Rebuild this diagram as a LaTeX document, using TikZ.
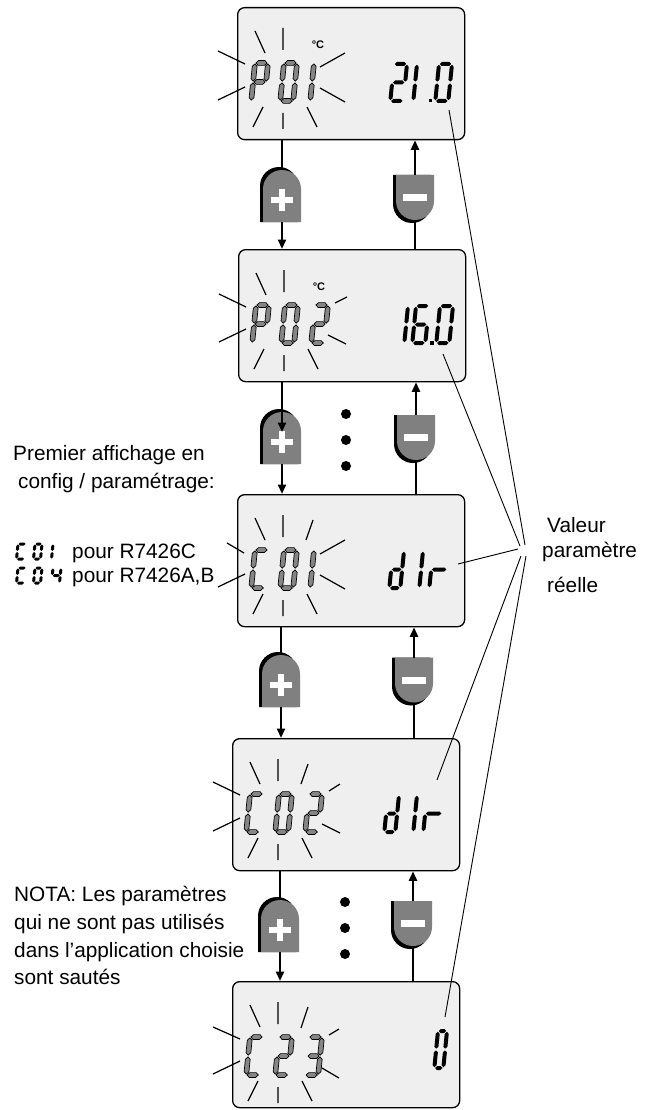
\documentclass[tikz,border=0pt]{standalone}
\usepackage{fontspec}
\setmainfont{Liberation Sans}
\usetikzlibrary{arrows.meta}

\definecolor{lcdfill}{HTML}{EFEFEF}
\definecolor{btngray}{HTML}{808080}
\definecolor{seggray}{HTML}{858585}

% pointed LCD bars
\newcommand\hseg[5]{% x1, x2, y, half thickness, style
  \path[#5] (#1,#3) -- ({#1+#4},{#3-#4}) -- ({#2-#4},{#3-#4}) -- (#2,#3)
    -- ({#2-#4},{#3+#4}) -- ({#1+#4},{#3+#4}) -- cycle;}
\newcommand\vseg[5]{% x, y1, y2, half thickness, style
  \path[#5] (#1,#2) -- ({#1+#4},{#2+#4}) -- ({#1+#4},{#3-#4}) -- (#1,#3)
    -- ({#1-#4},{#3-#4}) -- ({#1-#4},{#2+#4}) -- cycle;}

% seven segments: #1 width, #2 height, #3 style, #4 gap, #5 half thickness
\newcommand\lcdsegA[5]{\hseg{#4}{#1-#4}{0}{#5}{#3}}
\newcommand\lcdsegB[5]{\vseg{#1}{#4}{#2/2-#4}{#5}{#3}}
\newcommand\lcdsegC[5]{\vseg{#1}{#2/2+#4}{#2-#4}{#5}{#3}}
\newcommand\lcdsegD[5]{\hseg{#4}{#1-#4}{#2}{#5}{#3}}
\newcommand\lcdsegE[5]{\vseg{0}{#2/2+#4}{#2-#4}{#5}{#3}}
\newcommand\lcdsegF[5]{\vseg{0}{#4}{#2/2-#4}{#5}{#3}}
\newcommand\lcdsegG[5]{\hseg{#4}{#1-#4}{#2/2}{#5}{#3}}

% one slanted LCD character: x, y (top left), width, height, segments, style, gap, half thickness
\newcommand\glyph[8]{%
  \begin{scope}[shift={(#1,#2)}, xslant=0.1]
    \foreach \s in {#5}{\csname lcdseg\s\endcsname{#3}{#4}{#6}{#7}{#8}}
  \end{scope}}
\newcommand\codechar[2]{\glyph{#1}{56}{13}{38}{#2}{codeseg}{0.9}{2.4}}
\newcommand\valchar[2]{\glyph{#1}{57}{13}{37}{#2}{valseg}{0.8}{2}}
\newcommand\tinychar[4]{\glyph{#1}{#2}{#3}{15}{#4}{valseg}{0.5}{1.5}}

% keys of the controller
\newcommand\plusbtn[3]{%
  \node[btnnode, minimum height=52pt] (#1) at (#2,#3) {};
  \fill[black] ({#2-22},{#3+26}) -- ({#2-22},{#3-10})
    .. controls ({#2-22},{#3-20.5}) and ({#2-13.5},{#3-29}) .. ({#2-3},{#3-29})
    .. controls ({#2+7.5},{#3-29}) and ({#2+16},{#3-20.5}) .. ({#2+16},{#3-10})
    -- ({#2+16},{#3+26}) -- cycle;
  \fill[btngray] ({#2-19},{#3+26}) -- ({#2-19},{#3-7})
    .. controls ({#2-19},{#3-17.5}) and ({#2-10.5},{#3-26}) .. (#2,{#3-26})
    .. controls ({#2+10.5},{#3-26}) and ({#2+19},{#3-17.5}) .. ({#2+19},{#3-7})
    -- ({#2+19},{#3+26}) -- cycle;
  \fill[white] ({#2-11},{#3+1}) rectangle ({#2+11},{#3+7});
  \fill[white] ({#2-3},{#3-7}) rectangle ({#2+3},{#3+15});}
\newcommand\minusbtn[3]{%
  \node[btnnode, minimum height=45pt] (#1) at (#2,#3) {};
  \fill[black] ({#2-22},{#3-22.5}) -- ({#2-22},{#3+6.5})
    .. controls ({#2-22},{#3+17}) and ({#2-13.5},{#3+25.5}) .. ({#2-3},{#3+25.5})
    .. controls ({#2+7.5},{#3+25.5}) and ({#2+16},{#3+17}) .. ({#2+16},{#3+6.5})
    -- ({#2+16},{#3-22.5}) -- cycle;
  \fill[btngray] ({#2-19},{#3-22.5}) -- ({#2-19},{#3+3.5})
    .. controls ({#2-19},{#3+14}) and ({#2-10.5},{#3+22.5}) .. (#2,{#3+22.5})
    .. controls ({#2+10.5},{#3+22.5}) and ({#2+19},{#3+14}) .. ({#2+19},{#3+3.5})
    -- ({#2+19},{#3-22.5}) -- cycle;
  \fill[white] ({#2-12},{#3-3.5}) rectangle ({#2+12},{#3+3.5});}

% flashing rays shared by every display
\newcommand\raysbase{%
  \draw[ray] (46,21) -- (46,43) (46,106) -- (46,122)
    (18,24) -- (28,46) (16,120) -- (26,100) (70,100) -- (80,120)
    (-19,93) -- (8,80);}

\begin{document}
\begin{tikzpicture}[x=1pt, y=-1pt,
  lcdbox/.style={draw=black, line width=1.3pt, fill=lcdfill, rounded corners=7pt,
    minimum width=227pt, minimum height=132pt, inner sep=0pt, anchor=north west},
  btnnode/.style={minimum width=38pt, inner sep=0pt, outer sep=0pt},
  codeseg/.style={fill=seggray, draw=black, line width=0.7pt, line join=miter},
  valseg/.style={fill=black},
  ray/.style={line width=1.2pt},
  conn/.style={line width=2.2pt},
  arr/.style={-{Triangle[length=9.5pt,width=8pt]}},
  lead/.style={line width=0.9pt},
  dot/.style={circle, fill=black, inner sep=0pt, minimum size=10pt},
  txt/.style={anchor=base west, inner sep=0pt, font=\fontsize{20.8}{25}\selectfont},
  unit/.style={inner sep=0pt, font=\bfseries\fontsize{11}{11}\selectfont}]
\useasboundingbox (0,0) rectangle (652,1110);

% ---------- displays ----------
\node[lcdbox] (lcd1) at (237,7) {};
\node[lcdbox] (lcd2) at (238,249) {};
\node[lcdbox] (lcd3) at (237,494) {};
\node[lcdbox] (lcd4) at (232,738) {};
\node[lcdbox, minimum height=126pt] (lcd5) at (232,981) {};

% P01  21.0
\begin{scope}[shift={(lcd1.north west)}]
  \raysbase
  \draw[ray] (-19,44) -- (8,57) (83,60) -- (108,46) (83,81) -- (108,95);
  \codechar{18}{A,B,E,F,G}\codechar{47}{A,B,C,D,E,F}\codechar{77}{E,F}
  \node[unit] (u1) at (81,38) {°C};
  \valchar{157}{A,B,G,E,D}\valchar{180}{E,F}\valchar{202}{A,B,C,D,E,F}
  \fill (191.5,92) rectangle (195,95.5);
\end{scope}

% P02  16.0
\begin{scope}[shift={(lcd2.north west)}]
  \raysbase
  \draw[ray] (-19,45) -- (8,58) (97,54) -- (109,48) (90,86) -- (108,95);
  \codechar{18}{A,B,E,F,G}\codechar{47}{A,B,C,D,E,F}\codechar{77}{A,B,G,E,D}
  \node[unit] (u2) at (81,38) {°C};
  \valchar{170}{E,F}\valchar{178}{A,F,G,E,D,C}\valchar{202}{A,B,C,D,E,F}
  \fill (192,92) rectangle (195.5,95.5);
\end{scope}

% C01  dIr
\begin{scope}[shift={(lcd3.north west)}]
  \raysbase
  \draw[ray] (76,26) -- (69,46) (-10,49) -- (7,59) (83,60) -- (108,46) (83,81) -- (108,95);
  \codechar{18}{A,F,E,D}\codechar{47}{A,B,C,D,E,F}\codechar{77}{E,F}
  \glyph{156}{57}{11}{37}{B,C,G,E,D}{valseg}{0.8}{2}
  \valchar{186}{E,F}
  \glyph{196}{57}{16}{37}{E,G}{valseg}{0.8}{2}
\end{scope}

% C02  dIr
\begin{scope}[shift={(lcd4.north west)}]
  \raysbase
  \draw[ray] (76,26) -- (69,46) (-19,44) -- (8,57) (97,53) -- (108,46) (90,86) -- (108,95);
  \codechar{18}{A,F,E,D}\codechar{47}{A,B,C,D,E,F}\codechar{77}{A,B,G,E,D}
  \glyph{156}{57}{11}{37}{B,C,G,E,D}{valseg}{0.8}{2}
  \valchar{185}{E,F}
  \glyph{195}{57}{17}{37}{E,G}{valseg}{0.8}{2}
\end{scope}

% C23  0
\begin{scope}[shift={(lcd5.north west)}]
  \raysbase
  \draw[ray] (76,26) -- (69,47) (-19,46) -- (8,58) (97,54) -- (107,48) (90,87) -- (107,97);
  \codechar{18}{A,F,E,D}\codechar{47}{A,B,G,E,D}\codechar{77}{A,B,G,C,D}
  \glyph{206}{50}{9}{37}{A,B,C,D,E,F}{valseg}{0.8}{2}
\end{scope}

% ---------- keys ----------
\plusbtn{plus1}{282}{196}    \minusbtn{minus1}{415}{197.5}
\plusbtn{plus2}{282}{438}    \minusbtn{minus2}{416}{437.5}
\plusbtn{plus3}{281}{681}    \minusbtn{minus3}{414}{680}
\plusbtn{plus4}{280}{926}    \minusbtn{minus4}{413}{923.5}

\node[dot] (dA1) at (346,414) {};
\node[dot] (dA2) at (346,440) {};
\node[dot] (dA3) at (346,466) {};
\node[dot] (dB1) at (345,902) {};
\node[dot] (dB2) at (345,928) {};
\node[dot] (dB3) at (345,954) {};

% ---------- key connectors ----------
\draw[conn] (lcd1.south -| plus1.north) -- (plus1.north);
\draw[conn, arr] (plus1.south) -- (plus1.south |- lcd2.north);
\draw[conn] (lcd2.north -| minus1.south) -- (minus1.south);
\draw[conn, arr] (minus1.north) -- (minus1.north |- lcd1.south);

\draw[conn, arr] (lcd2.south -| plus2.north) -- ([yshift=6pt]plus2.center);
\draw[conn, arr] (plus2.south) -- (plus2.south |- lcd3.north);
\draw[conn] (lcd3.north -| minus2.south) -- (minus2.south);
\draw[conn, arr] (minus2.north) -- (minus2.north |- lcd2.south);

\draw[conn] (lcd3.south -| plus3.north) -- (plus3.north);
\draw[conn, arr] (plus3.south) -- (plus3.south |- lcd4.north);
\draw[conn] (lcd4.north -| minus3.south) -- (minus3.south);
\draw[conn, arr] (minus3.north) -- (minus3.north |- lcd3.south);

\draw[conn] (lcd4.south -| plus4.north) -- (plus4.north);
\draw[conn, arr] (plus4.south) -- (plus4.south |- lcd5.north);
\draw[conn] (lcd5.north -| minus4.south) -- (minus4.south);
\draw[conn, arr] (minus4.north) -- (minus4.north |- lcd4.south);

% ---------- value leaders ----------
\coordinate (v1) at (449,110);  \coordinate (e1) at (525,545);
\coordinate (v2) at (443,354);  \coordinate (e2) at (520,546);
\coordinate (v3) at (458,564);  \coordinate (e3) at (518,549);
\coordinate (v4) at (437,780);  \coordinate (e4) at (521,556);
\coordinate (v5) at (445,1017); \coordinate (e5) at (526,556);
\foreach \i in {1,...,5} \draw[lead] (v\i) -- (e\i);

\node[txt] (val1) at (547,532) {Valeur};
\node[txt] (val2) at (542,557) {paramètre};
\node[txt] (val3) at (547,592) {réelle};

% ---------- notes ----------
\node[txt] (pr1) at (13,460) {Premier affichage en};
\node[txt] (pr2) at (18,488) {config / paramétrage:};
\node[txt] (pr3) at (72,558) {pour R7426C};
\node[txt] (pr4) at (72,582) {pour R7426A,B};
\tinychar{18}{544}{8}{A,F,E,D}\tinychar{35}{544}{7}{A,B,C,D,E,F}\tinychar{53}{544}{7}{E,F}
\tinychar{18}{568}{8}{A,F,E,D}\tinychar{35}{568}{7}{A,B,C,D,E,F}\tinychar{53}{568}{8}{F,G,B,C}

\node[txt] (n1) at (14,901) {NOTA: Les paramètres};
\node[txt] (n2) at (14,929) {qui ne sont pas utilisés};
\node[txt] (n3) at (14,957) {dans l’application choisie};
\node[txt] (n4) at (14,984) {sont sautés};
\end{tikzpicture}
\end{document}
